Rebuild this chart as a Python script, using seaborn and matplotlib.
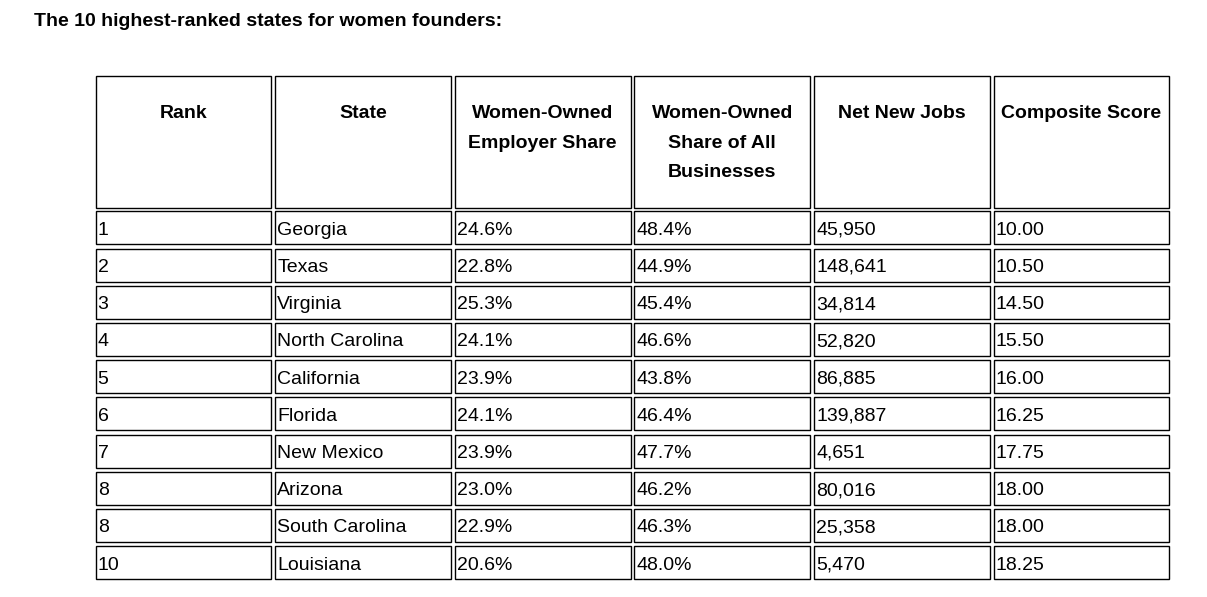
import matplotlib
matplotlib.use("Agg")
import matplotlib.pyplot as plt
from matplotlib.patches import Rectangle
import seaborn as sns

# table data
headers = [
    ["Rank"],
    ["State"],
    ["Women-Owned", "Employer Share"],
    ["Women-Owned", "Share of All", "Businesses"],
    ["Net New Jobs"],
    ["Composite Score"],
]
ranks = [1, 2, 3, 4, 5, 6, 7, 8, 8, 10]
states = ["Georgia", "Texas", "Virginia", "North Carolina", "California",
          "Florida", "New Mexico", "Arizona", "South Carolina", "Louisiana"]
employer_share = [24.6, 22.8, 25.3, 24.1, 23.9, 24.1, 23.9, 23.0, 22.9, 20.6]
all_business_share = [48.4, 44.9, 45.4, 46.6, 43.8, 46.4, 47.7, 46.2, 46.3, 48.0]
net_new_jobs = [45950, 148641, 34814, 52820, 86885, 139887, 4651, 80016, 25358, 5470]
composite_score = [10.00, 10.50, 14.50, 15.50, 16.00, 16.25, 17.75, 18.00, 18.00, 18.25]

title = "The 10 highest-ranked states for women founders:"

sns.set_theme(style="white")
plt.rcParams['font.family'] = ['Liberation Sans', 'DejaVu Sans']

# layout in pixels
W, H = 1207, 597
col_left0, col_pitch, col_w = 95.5, 179.6, 175.8
head_top, head_h = 76.0, 131.5
row_top0, row_pitch, row_h = 211.3, 37.2, 33.0
fs = 14

fig = plt.figure(figsize=(W / 100, H / 100), dpi=100)
ax = fig.add_axes([0, 0, 1, 1])
ax.set_xlim(0, W)
ax.set_ylim(H, 0)
ax.axis("off")

ax.text(33.5, 26, title, fontsize=fs, fontweight="bold", color="black",
        ha="left", va="baseline")

rows = []
for i in range(len(ranks)):
    rows.append([
        str(ranks[i]),
        states[i],
        f"{employer_share[i]:.1f}%",
        f"{all_business_share[i]:.1f}%",
        f"{net_new_jobs[i]:,}",
        f"{composite_score[i]:.2f}",
    ])

for c, lines in enumerate(headers):
    x0 = col_left0 + c * col_pitch
    ax.add_patch(Rectangle((x0, head_top), col_w, head_h, fill=False,
                           edgecolor="black", linewidth=1.0))
    for k, line in enumerate(lines):
        ax.text(x0 + col_w / 2, head_top + 42 + k * 29.5, line, fontsize=fs,
                fontweight="bold", color="black", ha="center", va="baseline")

for r, row in enumerate(rows):
    y0 = row_top0 + r * row_pitch
    for c, val in enumerate(row):
        x0 = col_left0 + c * col_pitch
        ax.add_patch(Rectangle((x0, y0), col_w, row_h, fill=False,
                               edgecolor="black", linewidth=1.0))
        ax.text(x0 + 2.2, y0 + 23.5, val, fontsize=fs, color="black",
                ha="left", va="baseline")

fig.savefig("out.png", dpi=100, facecolor="white")
